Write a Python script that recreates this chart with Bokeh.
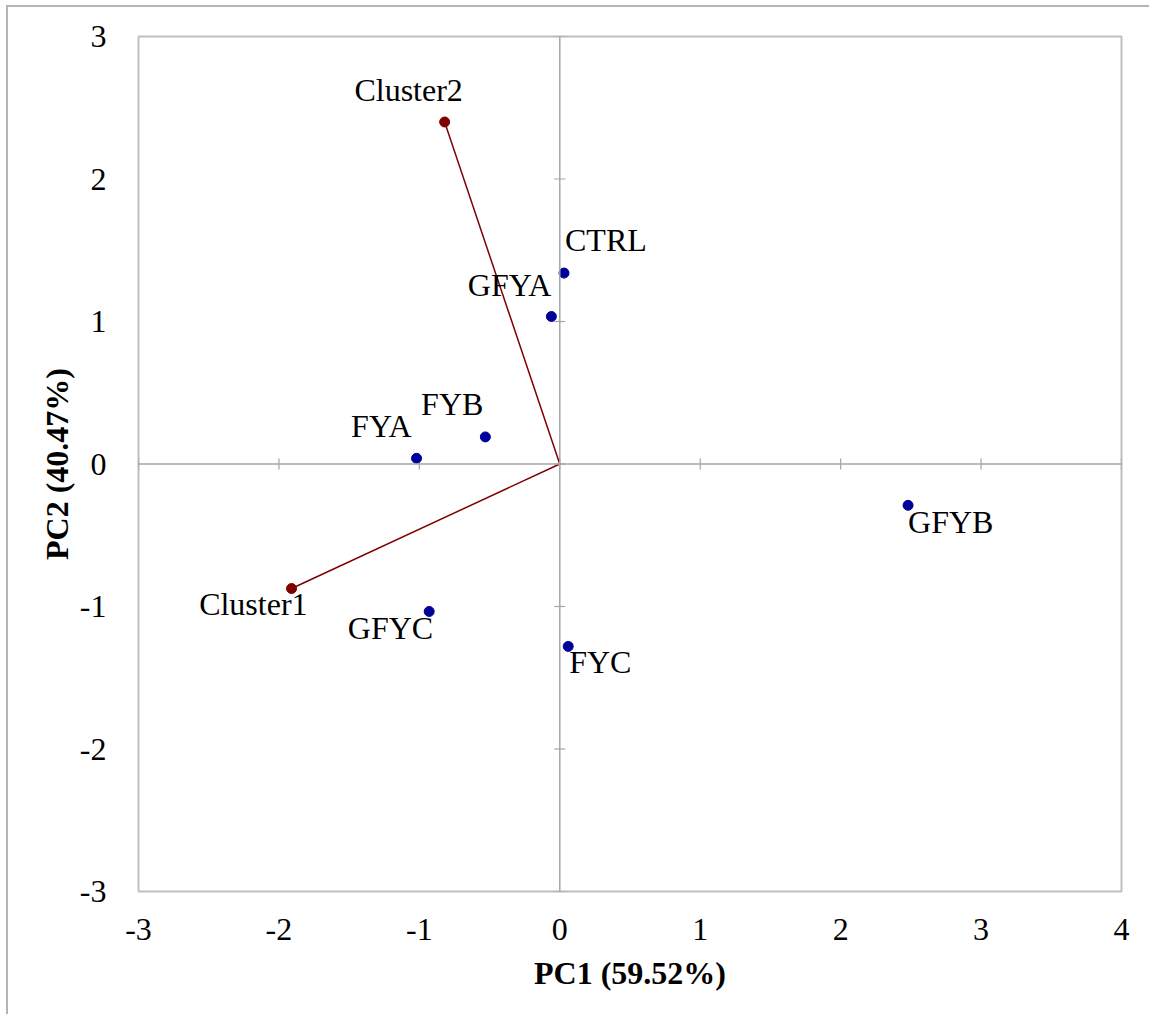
from bokeh.plotting import figure
from bokeh.models import ColumnDataSource, Span, FixedTicker, Range1d, CustomJSTickFormatter
from bokeh.embed import file_html
from bokeh.resources import INLINE
from bokeh.core.properties import value
import math

# PCA scores of the samples
samples = ["CTRL", "GFYA", "FYB", "FYA", "GFYB", "GFYC", "FYC"]
pc1_scores = [0.03, -0.06, -0.53, -1.02, 2.48, -0.93, 0.06]
pc2_scores = [1.34, 1.035, 0.19, 0.04, -0.29, -1.035, -1.28]

# Cluster loadings
clusters = ["Cluster1", "Cluster2"]
pc1_loadings = [-1.91, -0.82]
pc2_loadings = [-0.874, 2.40]

x_ticks = [-3, -2, -1, 0, 1, 2, 3, 4]
y_ticks = [-3, -2, -1, 0, 1, 2, 3]

x_title = "PC1 (59.52%)"
y_title = "PC2 (40.47%)"

FONT = "Liberation Serif"
FONT_SIZE = "32px"
GRID_GREY = "#a6a6a6"
BLUE = "#000099"
RED = "#800000"

# label placement (screen offsets in pixels, y downwards) for each point label
sample_dx = [1, 0, -2, -5, 0, 4, 1]
sample_dy = [-33, -32, -33, -32, 17, 17, 16]
sample_align = ["left", "right", "right", "right", "left", "right", "left"]

cluster_dx = [16, -36]
cluster_dy = [15, -32]
cluster_align = ["right", "center"]

p = figure(
    output_backend="svg",
    toolbar_location=None,
    frame_width=983,
    frame_height=855,
    min_border_left=130,
    min_border_top=29,
    min_border_right=28,
    min_border_bottom=123,
    x_range=Range1d(x_ticks[0], x_ticks[-1]),
    y_range=Range1d(y_ticks[0], y_ticks[-1]),
)
p.margin = (5, 0, 0, 6)
p.styles = {"border-top": "2px solid #b4b4b4", "border-left": "2px solid #b4b4b4"}

p.xgrid.visible = False
p.ygrid.visible = False
p.outline_line_color = "#bfbfbf"
p.outline_line_width = 2
p.background_fill_color = "white"
p.border_fill_color = "white"

plain_ints = CustomJSTickFormatter(code="return tick.toString();")
for ax, ticks in ((p.xaxis, x_ticks), (p.yaxis, y_ticks)):
    ax.ticker = FixedTicker(ticks=ticks)
    ax.formatter = plain_ints
    ax.axis_line_color = None
    ax.major_tick_line_color = None
    ax.minor_tick_line_color = None
    ax.major_label_text_font = FONT
    ax.major_label_text_font_size = FONT_SIZE
    ax.major_label_text_color = "black"
    ax.axis_label_text_font = FONT
    ax.axis_label_text_font_size = FONT_SIZE
    ax.axis_label_text_font_style = "bold"
    ax.axis_label_text_color = "black"

p.xaxis.major_label_standoff = 21
p.yaxis.major_label_standoff = 26
p.xaxis.axis_label = x_title
p.yaxis.axis_label = y_title
p.xaxis.axis_label_standoff = 12
p.yaxis.axis_label_standoff = 2

# axes crossing at the origin
p.add_layout(Span(location=0, dimension="width", line_color=GRID_GREY, line_width=1.5))
p.add_layout(Span(location=0, dimension="height", line_color=GRID_GREY, line_width=1.5))

# tick marks on the origin axes
p.scatter(x=x_ticks, y=[0] * len(x_ticks), marker="dash", angle=math.pi / 2,
          size=11, line_color=GRID_GREY, line_width=1.2)
p.scatter(x=[0] * len(y_ticks), y=y_ticks, marker="dash",
          size=11, line_color=GRID_GREY, line_width=1.2)

# cluster vectors
csrc = ColumnDataSource(dict(
    x=pc1_loadings, y=pc2_loadings, x0=[0] * len(clusters), y0=[0] * len(clusters),
    name=clusters, dx=cluster_dx, dy=cluster_dy, align=cluster_align,
))
p.segment(x0="x0", y0="y0", x1="x", y1="y", source=csrc, line_color=RED, line_width=1.5)
p.scatter(x="x", y="y", source=csrc, size=10, fill_color=RED, line_color=RED)
p.text(x="x", y="y", text="name", source=csrc, x_offset="dx", y_offset="dy",
       text_align="align", text_baseline="middle",
       text_font=value(FONT), text_font_size=FONT_SIZE, text_color="black")

# sample scores
ssrc = ColumnDataSource(dict(
    x=pc1_scores, y=pc2_scores, name=samples,
    dx=sample_dx, dy=sample_dy, align=sample_align,
))
p.scatter(x="x", y="y", source=ssrc, size=10, fill_color=BLUE, line_color=BLUE)
p.text(x="x", y="y", text="name", source=ssrc, x_offset="dx", y_offset="dy",
       text_align="align", text_baseline="middle",
       text_font=value(FONT), text_font_size=FONT_SIZE, text_color="black")

open("out.html", "w").write(file_html(p, INLINE))
